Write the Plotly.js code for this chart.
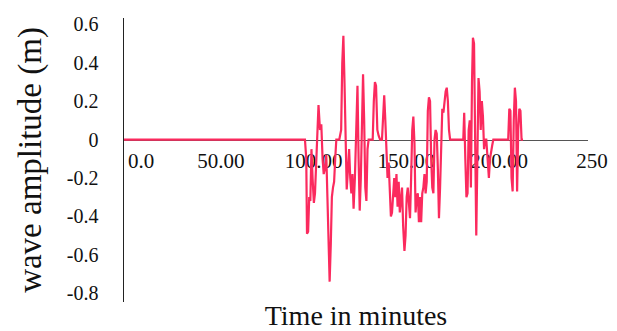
<!DOCTYPE html>
<html>
<head>
<meta charset="utf-8">
<script src="https://cdn.plot.ly/plotly-3.0.1.min.js"></script>
<style>html,body{margin:0;padding:0;background:#fff;}#chart{width:617px;height:331px;}</style>
</head>
<body>
<div id="chart"></div>
<script>
const time = [0, 97.5, 98.2, 98.6, 99.2, 99.8, 100.4, 101, 101.6, 102.3, 102.9, 103.5, 104.2, 104.8, 105.6, 106.3, 107, 107.6, 108.3, 109, 109.6, 110.2, 110.8, 111.4, 112, 112.6, 113.2, 113.8, 114.4, 116, 117, 117.6, 118.2, 118.8, 119.4, 120, 120.7, 121.3, 121.9, 122.5, 123.1, 123.7, 124.4, 125.2, 125.8, 126.4, 127, 127.6, 128.2, 128.8, 129.4, 130, 130.6, 131.2, 131.8, 134, 134.6, 135.2, 135.8, 136.5, 137.2, 138, 139, 139.6, 140.2, 140.8, 141.4, 142, 142.6, 143.2, 143.8, 144.4, 145, 145.6, 146.2, 146.8, 147.4, 148, 148.6, 149.2, 149.8, 150.4, 151.1, 151.7, 152.3, 152.9, 153.5, 154.1, 154.7, 155.3, 155.9, 156.5, 157.1, 157.7, 158.3, 158.9, 159.5, 160.1, 160.7, 161.3, 161.9, 162.5, 163.1, 163.7, 164.3, 164.9, 165.5, 166.1, 166.7, 167.3, 167.9, 168.5, 169.1, 169.7, 170.3, 170.9, 171.5, 172.1, 172.7, 173.3, 173.9, 174.5, 175.1, 175.7, 182.8, 183.3, 183.9, 184.5, 185.1, 185.7, 186.3, 186.9, 187.5, 188, 188.6, 189.2, 189.8, 190.4, 191, 191.6, 192.2, 192.8, 193.4, 194, 194.6, 195.2, 195.8, 196.6, 197.2, 197.8, 198.4, 199, 207, 207.6, 208.2, 208.8, 209.4, 210, 210.6, 211.2, 211.8, 212.4, 213, 213.6, 214.2, 215];
const amplitude = [0, 0, -0.1, -0.49, -0.48, -0.3, -0.32, -0.05, -0.2, -0.33, -0.28, -0.1, 0.1, 0.18, 0.05, 0.08, -0.1, -0.18, -0.15, -0.08, -0.3, -0.6, -0.74, -0.55, -0.3, -0.25, -0.22, -0.1, 0, 0, 0.05, 0.4, 0.54, 0.3, -0.12, -0.26, -0.15, -0.05, -0.2, -0.28, -0.18, -0.36, -0.2, 0.1, 0.28, -0.1, -0.37, -0.2, 0.2, 0.34, 0.1, -0.25, -0.32, -0.05, 0, 0, 0.2, 0.3, 0.28, 0.05, 0.02, 0, 0, 0.15, 0.23, 0.1, -0.05, -0.2, -0.12, -0.28, -0.4, -0.38, -0.25, -0.2, -0.3, -0.18, -0.35, -0.22, -0.38, -0.3, -0.25, -0.45, -0.58, -0.5, -0.3, -0.25, -0.32, -0.41, -0.2, 0.05, 0.12, -0.02, -0.38, -0.3, -0.28, -0.43, -0.3, -0.43, -0.28, -0.25, -0.18, -0.28, -0.22, 0.15, 0.22, 0.2, -0.1, -0.25, -0.28, 0, 0.05, 0.03, -0.15, -0.41, -0.25, 0.05, 0.16, 0.14, 0.2, 0.25, 0.27, 0.2, 0.05, 0, 0, 0.14, -0.1, -0.3, -0.28, 0.05, 0.1, -0.25, 0.3, 0.53, 0.5, 0.1, -0.5, -0.1, 0.32, 0.25, 0.05, 0.2, 0.12, -0.05, 0, 0, -0.1, -0.2, -0.1, -0.05, -0.03, 0, 0, 0.16, 0.15, -0.2, -0.27, 0.1, 0.27, 0.2, -0.27, 0.05, 0.16, 0.15, 0, 0];
const xTickVals = [0, 50, 100, 150, 200, 250];
const xTickText = ["0.0", "50.00", "100.00", "150.00", "200.00", "250"];
const yTickVals = [0.6, 0.4, 0.2, 0, -0.2, -0.4, -0.6, -0.8];
const yTickText = ["0.6", "0.4", "0.2", "0", "-0.2", "-0.4", "-0.6", "-0.8"];

const yRange = [-0.846, 0.633];
const xRange = [0, 250];
const zeroPos = (0 - yRange[0]) / (yRange[1] - yRange[0]);
const serif = "Liberation Serif";

const shownXText = xTickText.map((t, i) => i === 0 ? "\u00a0\u00a0\u00a0\u00a0\u00a0" + t : t);

const trace = {
  x: time, y: amplitude, type: "scatter", mode: "lines",
  line: {color: "#fb2a5e", width: 2.2},
  hoverinfo: "skip"
};

const layout = {
  width: 617, height: 331,
  margin: {l: 124, r: 29, t: 18, b: 29},
  paper_bgcolor: "#ffffff", plot_bgcolor: "#ffffff",
  showlegend: false,
  font: {family: serif, color: "#111"},
  xaxis: {
    range: xRange, anchor: "free", position: zeroPos,
    showline: true, linecolor: "#555", linewidth: 1.5,
    showgrid: false, zeroline: false, ticks: "",
    tickmode: "array", tickvals: xTickVals, ticktext: shownXText,
    tickfont: {family: serif, size: 21, color: "#111"},
    ticklabelshift: 4, ticklabelstandoff: 2,
    layer: "below traces",
    title: {text: "Time in minutes", font: {family: serif, size: 28, color: "#111"}, standoff: 133}
  },
  yaxis: {
    range: yRange, showline: true, linecolor: "#222", linewidth: 1.5,
    showgrid: false, zeroline: false, ticks: "",
    tickmode: "array", tickvals: yTickVals, ticktext: yTickText,
    tickfont: {family: serif, size: 20, color: "#111"},
    ticklabelstandoff: 20,
    title: {text: "wave amplitude (m)", font: {family: serif, size: 33, color: "#111"}, standoff: 15}
  }
};

Plotly.newPlot("chart", [trace], layout, {staticPlot: true, displayModeBar: false});
</script>
</body>
</html>
